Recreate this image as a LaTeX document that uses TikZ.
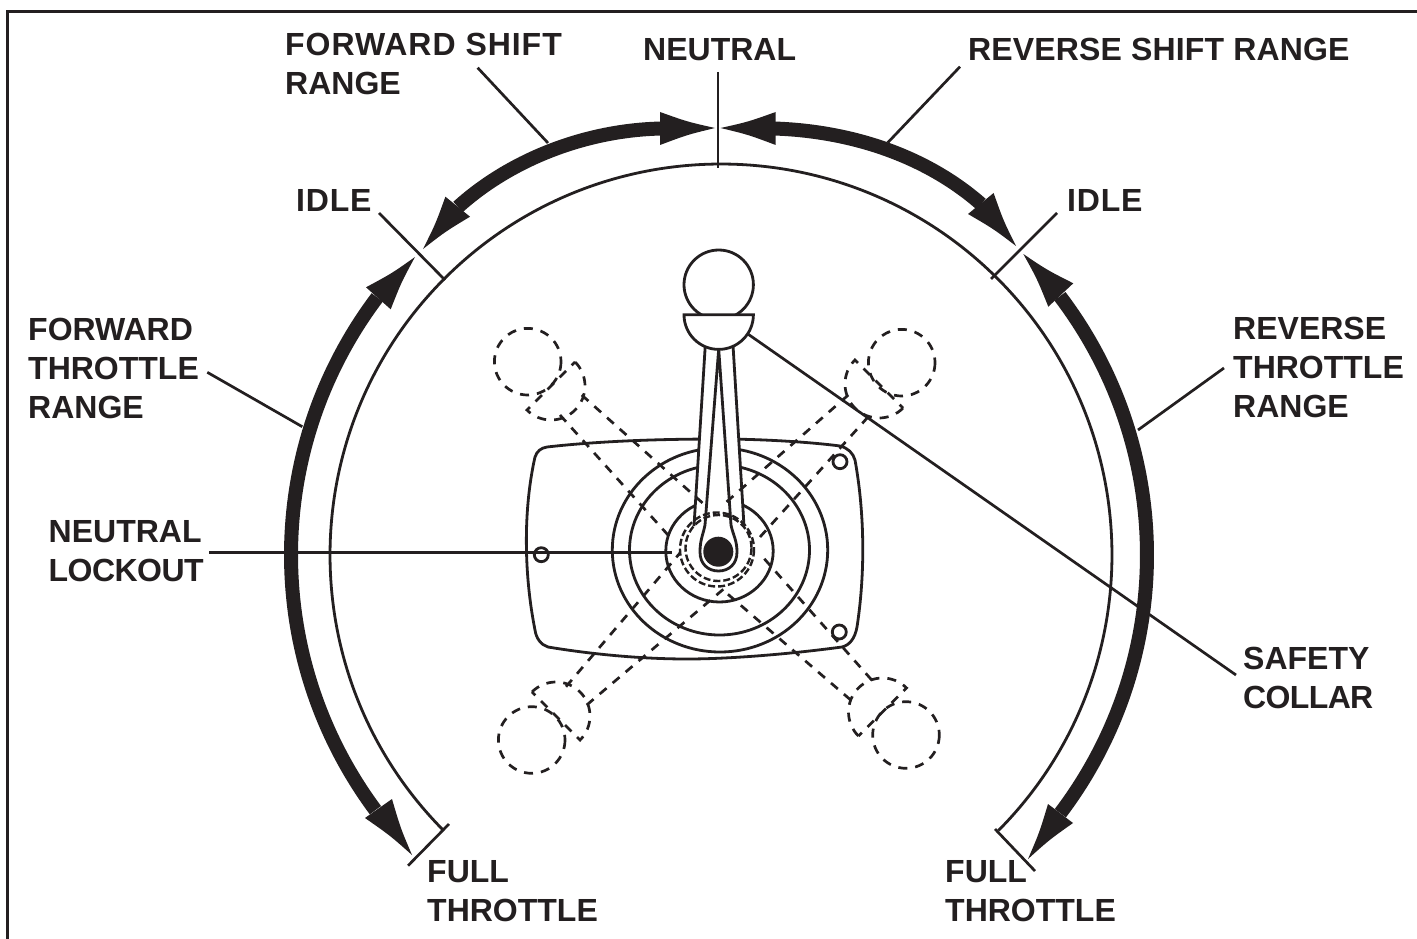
\documentclass[tikz,border=0pt]{standalone}
\usepackage{fontspec}
\setmainfont{Liberation Sans}
\usetikzlibrary{calc}
\definecolor{ink}{HTML}{231F20}
\newcommand{\kitehead}[3]{\fill[ink] (#1) .. controls ($($(#1)!.5!(#2)$)!.22!($(#1)!.5!($(#2)!.5!(#3)$)$)$) .. (#2) -- (#3)
  .. controls ($($(#1)!.5!(#3)$)!.22!($(#1)!.5!($(#2)!.5!(#3)$)$)$) .. (#1) -- cycle;}
\newcommand{\trk}[2]{{\addfontfeature{LetterSpace=#1}#2}}

\begin{document}
\begin{tikzpicture}[x=1pt,y=1pt,yscale=-1,
  lbl/.style={anchor=north west,inner sep=0pt,align=left,text=ink,font=\fontsize{32}{39}\selectfont\bfseries},
  leader/.style={draw=ink,line width=2.7pt},
  fine/.style={draw=ink,line width=2.8pt},
  rangearc/.style={draw=ink,line width=14pt},
  ghost/.style={draw=ink,line width=2.7pt,dash pattern=on 9pt off 8pt},
  hubring/.style={draw=ink,line width=2.4pt,dash pattern=on 7pt off 3pt}
]
\useasboundingbox (0,0) rectangle (1417,939);
\draw[ink,line width=3pt] (7.5,939) -- (7.5,12) -- (1417,12);

% labels
\node[lbl] (fwdshift) at (285,33) {\trk{3}{FORWARD SHIFT}\\RANGE};
\node[lbl] (neutral) at (643,38) {NEUTRAL};
\node[lbl] (revshift) at (968,38) {\trk{.5}{REVERSE SHIFT RANGE}};
\node[lbl] (idleL) at (296,189) {\trk{2.5}{IDLE}};
\node[lbl] (idleR) at (1067,189) {\trk{2.5}{IDLE}};
\node[lbl] (fwdthr) at (28,318) {FORWARD\\THROTTLE\\RANGE};
\node[lbl] (revthr) at (1233,317) {REVERSE\\THROTTLE\\RANGE};
\node[lbl] (lockout) at (48.5,520) {NEUTRAL\\\trk{-1.7}{LOCKOUT}};
\node[lbl] (collar) at (1243,647) {SAFETY\\\trk{-2}{COLLAR}};
\node[lbl] (fullL) at (427,860) {FULL\\THROTTLE};
\node[lbl] (fullR) at (945,860) {FULL\\THROTTLE};

% dial
\coordinate (dial) at (721,555);
\coordinate (rng) at (719,555);
\draw[fine] (dial) ++(135.2:391) arc[start angle=135.2,end angle=404.8,radius=391];

% range arrows
\draw[rangearc] (rng) ++(143.4:428) arc[start angle=143.4,end angle=217,radius=428];
\draw[rangearc] (rng) ++(37.1:428) arc[start angle=37.1,end angle=-37.2,radius=428];
\draw[rangearc] (662,128.5) .. controls (585,130) and (510,160) .. (458,207);
\draw[rangearc] (774,128.5) .. controls (850,131) and (925,155) .. (981,204);
\kitehead{715,128}{660,112}{660,145}
\kitehead{720.6,128}{775.7,112}{775.7,145}
\kitehead{423,249}{445.4,196.7}{470,216.7}
\kitehead{1016,246}{993.6,193}{968,214}
\kitehead{415,257}{366,287.3}{390.7,309.3}
\kitehead{412,855}{392,799}{365,818}
\kitehead{1023.3,254}{1073.3,283.3}{1048.3,306.7}
\kitehead{1028,859}{1048,804}{1073,823}

% base plate and rings
\draw[fine] (547,447) .. controls (600,441) and (660,439) .. (720,439) .. controls (760,439) and (810,442) .. (840,446)
  .. controls (848,448) and (853,453) .. (855,460) .. controls (865,515) and (865,575) .. (857,627)
  .. controls (855,638) and (850,645) .. (842,647) .. controls (790,654) and (730,659) .. (687,659)
  .. controls (640,659) and (590,654) .. (548,647) .. controls (541,645) and (536,638) .. (535,630)
  .. controls (524,575) and (523,510) .. (535,457) .. controls (537,451) and (541,448) .. (547,447) -- cycle;
\draw[fine] (720,550) ellipse [x radius=107.7,y radius=102];
\draw[fine] (719.5,550) ellipse [x radius=90,y radius=85];
\draw[fine] (719.5,551) ellipse [x radius=53.7,y radius=51];
\foreach \hx/\hy in {840/461.7,541.3/554.7,839.3/632}
  \draw[fine] (\hx,\hy) circle (7);

% lever
\fill[white] (705.3,345) -- (694,526) -- (744,526) -- (733,345) -- cycle;
\draw[fine] (705.3,345) -- (694,526);
\draw[fine] (733,345) -- (744,526);
\draw[fine,fill=white] (718.7,349) -- (705,525) .. controls (703,535) and (700,540) .. (700,552)
  .. controls (700,564) and (708,571) .. (718.5,571) .. controls (729,571) and (737,564) .. (737,552)
  .. controls (737,540) and (733,535) .. (731,525) -- cycle;
\fill[ink] (718.3,551.7) circle (15);
\draw[fine,fill=white] (718.7,284.7) circle (34.7);
\draw[fine,fill=white] (684,314.7) -- (753.4,314.7) arc[start angle=0,end angle=180,radius=34.7] -- cycle;

% ghost positions of the lever
\foreach \bx/\by/\cx/\cy/\sa/\ax/\ay/\bbx/\bby/\ccx/\ccy/\dx/\dy in {
  527.7/361.7/551/386/-45/581.7/395/706.7/506.7/560/415/668/535,
  901.7/362.7/879/384/45/848.3/395/723/505/868.3/416.7/760/537,
  531.7/740/556/716/225/566/686.7/680/553/586.7/705/726/587,
  906/735/882.5/712/135/850.7/700/723/590/871.7/680/762.7/557}
{
  \draw[ghost] (\bx,\by) circle (33.3);
  \draw[ghost] (\cx,\cy) ++(\sa:34) arc[start angle=\sa,delta angle=180,radius=34] -- cycle;
  \draw[ghost] (\ax,\ay) -- (\bbx,\bby);
  \draw[ghost] (\ccx,\ccy) -- (\dx,\dy);
}
\draw[hubring] (717,549.5) circle (37);
\draw[hubring] (718.5,548) circle (33);

% leaders
\coordinate (fwdshiftA) at (477.6,67.7);
\coordinate (fwdshiftB) at (548,143);
\coordinate (revshiftA) at (960,66.7);
\coordinate (revshiftB) at (887.7,142.7);
\coordinate (neutralA) at (718,72);
\coordinate (neutralB) at (718,168);
\coordinate (idleLA) at (379,213);
\coordinate (idleLB) at (445,280);
\coordinate (idleRA) at (1057,213);
\coordinate (idleRB) at (991,279);
\coordinate (fwdthrA) at (207.3,372.3);
\coordinate (fwdthrB) at (302.3,426.7);
\coordinate (revthrA) at (1224,368);
\coordinate (revthrB) at (1138,430);
\coordinate (lockoutA) at (209,552.3);
\coordinate (lockoutB) at (672,552.3);
\coordinate (collarA) at (1236,675);
\coordinate (collarB) at (748.3,334.3);
\coordinate (fullLA) at (449,824);
\coordinate (fullLB) at (408,865.7);
\coordinate (fullRA) at (995,829);
\coordinate (fullRB) at (1035,871);
\foreach \ln in {fwdshift,revshift,neutral,idleL,idleR,fwdthr,revthr,lockout,collar,fullL,fullR}
  \draw[leader] (\ln A) -- (\ln B);
\end{tikzpicture}
\end{document}
